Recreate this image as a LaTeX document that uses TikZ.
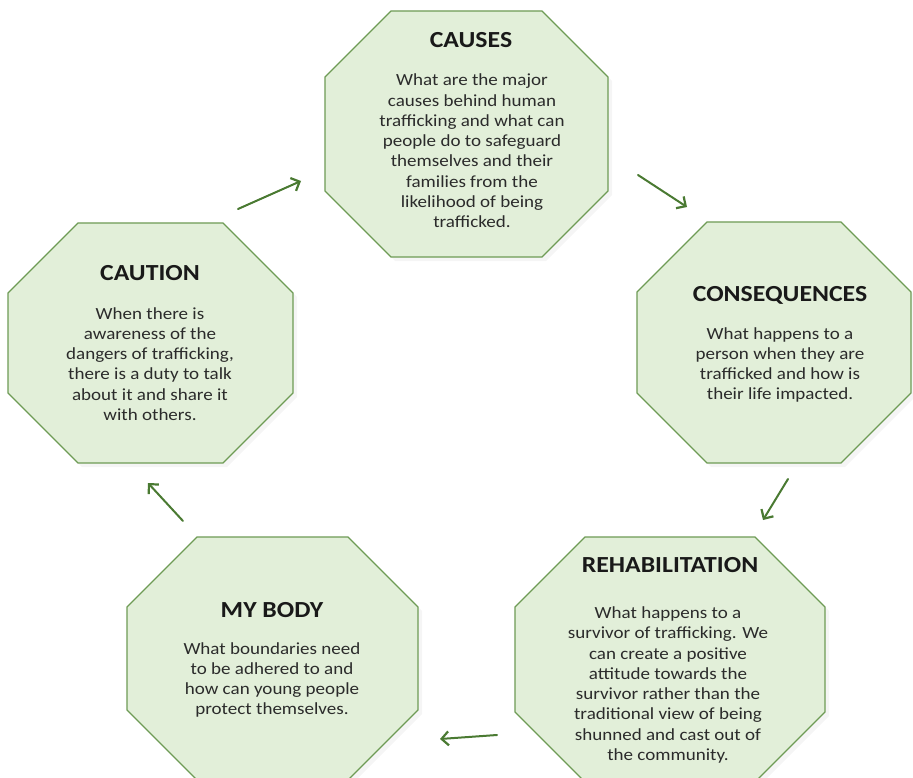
\documentclass[tikz,border=0pt]{standalone}
\usepackage{fontspec}
\setmainfont{Carlito}[FakeStretch=1.12]
\usetikzlibrary{arrows.meta}
\definecolor{octfill}{HTML}{E2EFD9}
\definecolor{octline}{HTML}{6E9B55}
\definecolor{arrowcol}{HTML}{4A7A32}
\definecolor{bodytext}{HTML}{2B2B2B}
\tikzset{
  octo/.style={draw=octline, fill=octfill, line width=1.2pt, line join=miter},
  octshadow/.style={fill=black, fill opacity=0.04, draw=none},
  titletext/.style={font=\fontsize{23}{27}\selectfont\bfseries, text=black!90, inner sep=0pt},
  bodytxt/.style={font=\fontsize{17}{20.3}\selectfont, text=bodytext, align=center, inner sep=0pt},
  flow/.style={draw=arrowcol, line width=2pt, line cap=round, -{Straight Barb[length=7pt,width=14pt,line width=2.2pt]}}
}
\newcommand{\octagonbox}[5]{%
  \fill[octshadow] ({#1+#5+4},{#2+4}) -- ({#3-#5+4},{#2+4}) -- ({#3+4},{#2+#5+4}) -- ({#3+4},{#4-#5+4}) -- ({#3-#5+4},{#4+4}) -- ({#1+#5+4},{#4+4}) -- ({#1+4},{#4-#5+4}) -- ({#1+4},{#2+#5+4}) -- cycle;
  \draw[octo] ({#1+#5},#2) -- ({#3-#5},#2) -- (#3,{#2+#5}) -- (#3,{#4-#5}) -- ({#3-#5},#4) -- ({#1+#5},#4) -- (#1,{#4-#5}) -- (#1,{#2+#5}) -- cycle;}
\begin{document}
\begin{tikzpicture}[x=1pt,y=-1pt]
\useasboundingbox (0,0) rectangle (913,778);
\clip (0,0) rectangle (913,778);
\fill[white] (0,0) rectangle (913,778);

% octagons
\octagonbox{325}{11}{608}{257}{66}
\octagonbox{8}{223}{293}{463}{70}
\octagonbox{637}{222}{911}{463}{70}
\octagonbox{515}{537}{825}{782}{70}
\octagonbox{127}{537}{418}{780}{70}

% CAUSES
\node[titletext] (causesT) at (471,40) {CAUSES};
\node[bodytxt] (causesB) at (472,151) {What are the major\\causes behind human\\trafficking and what can\\people do to safeguard\\themselves and their\\families from the\\likelihood of being\\trafficked.};

% CAUTION
\node[titletext] (cautionT) at (150,273) {CAUTION};
\node[bodytxt] (cautionB) at (150,364) {When there is\\awareness of the\\dangers of trafficking,\\there is a duty to talk\\about it and share it\\with others.};

% CONSEQUENCES
\node[titletext] (consT) at (780,295) {CONSEQUENCES};
\node[bodytxt] (consB) at (780,365) {What happens to a\\person when they are\\trafficked and how is\\their life impacted.};

% REHABILITATION
\node[titletext] (rehabT) at (670,565) {REHABILITATION};
\node[bodytxt] (rehabB) at (668,685) {What happens to a\\survivor of trafficking. We\\can create a positive\\attitude towards the\\survivor rather than the\\traditional view of being\\shunned and cast out of\\the community.};

% MY BODY
\node[titletext] (bodyT) at (272,610) {MY BODY};
\node[bodytxt] (bodyB) at (272,680) {What boundaries need\\to be adhered to and\\how can young people\\protect themselves.};

% arrow end points
\coordinate (a1s) at (238,209);
\coordinate (a1e) at (301,181);
\coordinate (a2s) at (638,175);
\coordinate (a2e) at (687,207);
\coordinate (a3s) at (788,479);
\coordinate (a3e) at (763,520);
\coordinate (a4s) at (497,735);
\coordinate (a4e) at (440,739);
\coordinate (a5s) at (183,521);
\coordinate (a5e) at (148,483);

\draw[flow] (a1s) -- (a1e);
\draw[flow] (a2s) -- (a2e);
\draw[flow] (a3s) -- (a3e);
\draw[flow] (a4s) -- (a4e);
\draw[flow] (a5s) -- (a5e);
\end{tikzpicture}
\end{document}
